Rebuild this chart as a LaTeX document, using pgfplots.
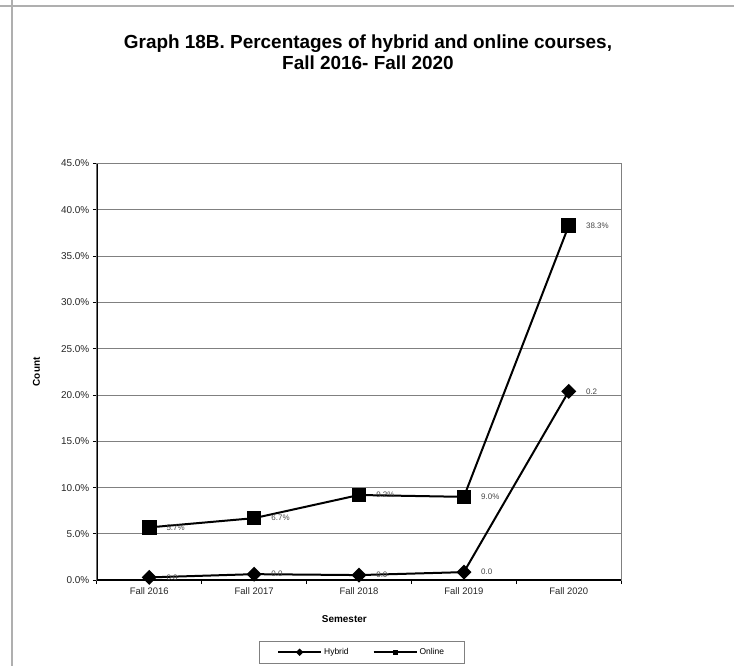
\documentclass[border=0pt]{standalone}
\usepackage{pgfplots}
\pgfplotsset{compat=1.18}
\usepackage{fontspec}
\setmainfont{Liberation Sans}
\definecolor{gridgray}{RGB}{128,128,128}
\definecolor{labelgray}{RGB}{70,70,70}
\definecolor{framegray}{RGB}{175,175,175}
\begin{document}
\begin{tikzpicture}[x=1bp,y=1bp]
\useasboundingbox (0,0) rectangle (734,666);
% sheet cell lines round the chart
\draw[framegray, line width=1.2bp] (0,660) -- (734,660);
\draw[framegray, line width=1.2bp] (12,0) -- (12,666);
\node[font=\bfseries\fontsize{19}{21}\selectfont, align=center] at (368,613.5)
  {Graph 18B. Percentages of hybrid and online courses,\\Fall 2016- Fall 2020};
\begin{axis}[%
at={(92.3,92.7)}, anchor=south west,
scale only axis,
width=524.4bp, height=416.6bp,
xmin=-0.5, xmax=4.5,
ymin=0, ymax=45,
xtick={0,1,2,3,4},
xticklabels={Fall 2016,Fall 2017,Fall 2018,Fall 2019,Fall 2020},
major x tick style={draw=none},
minor xtick={-0.5,0.5,1.5,2.5,3.5,4.5},
xtick pos=left, ytick pos=left,
ytick={0,5,...,45},
yticklabel={\pgfmathprintnumber[fixed,fixed zerofill,precision=1]{\tick}\%},
/pgf/number format/assume math mode=true,
tick align=outside,
major tick length=4bp, minor tick length=4bp,
tick style={black, line width=0.8bp},
ymajorgrids,
grid style={gridgray, line width=0.8bp},
axis line style={gridgray, line width=1bp},
xticklabel style={font=\fontsize{9.5}{10}\selectfont, text=black!85},
yticklabel style={font=\fontsize{10}{11}\selectfont, text=black!85},
xlabel={Semester},
ylabel={Count},
label style={font=\bfseries\fontsize{10}{11}\selectfont},
xlabel style={at={(axis description cs:0.472,-0.093)}, anchor=center},
ylabel style={at={(axis description cs:-0.115,0.5)}, anchor=center},
legend columns=2,
legend style={at={(axis description cs:0.505,-0.173)}, anchor=center,
  draw=gridgray, line width=0.8bp, font=\fontsize{8.5}{10}\selectfont,
  inner xsep=18bp, inner ysep=5.5bp,
  /tikz/every even column/.append style={column sep=22bp}},
legend image code/.code={\draw[mark repeat=2,mark phase=2,#1,mark size=1.6bp]
  plot coordinates {(0bp,0bp) (21.5bp,0bp) (43bp,0bp)};},
point meta=explicit symbolic,
nodes near coords,
every node near coord/.append style={anchor=west, xshift=13bp,
  font=\fontsize{8}{9}\selectfont, text=labelgray},
]
\addplot [color=black, line width=2bp, mark=square*, mark size=4.3bp,
  mark options={rotate=45}]
coordinates {(0,0.3) [0.0] (1,0.65) [0.0] (2,0.55) [0.0] (3,0.87) [0.0] (4,20.4) [0.2]};
\addlegendentry{Hybrid};
\addplot [color=black, line width=2bp, mark=square*, mark size=6.3bp]
coordinates {(0,5.7) [5.7\%] (1,6.7) [6.7\%] (2,9.2) [9.2\%] (3,9.0) [9.0\%] (4,38.3) [38.3\%]};
\addlegendentry{Online};
\draw[black, line width=1.6bp] (rel axis cs:0,1) -- (rel axis cs:0,0) -- (rel axis cs:1,0);
\end{axis}
\end{tikzpicture}
\end{document}
